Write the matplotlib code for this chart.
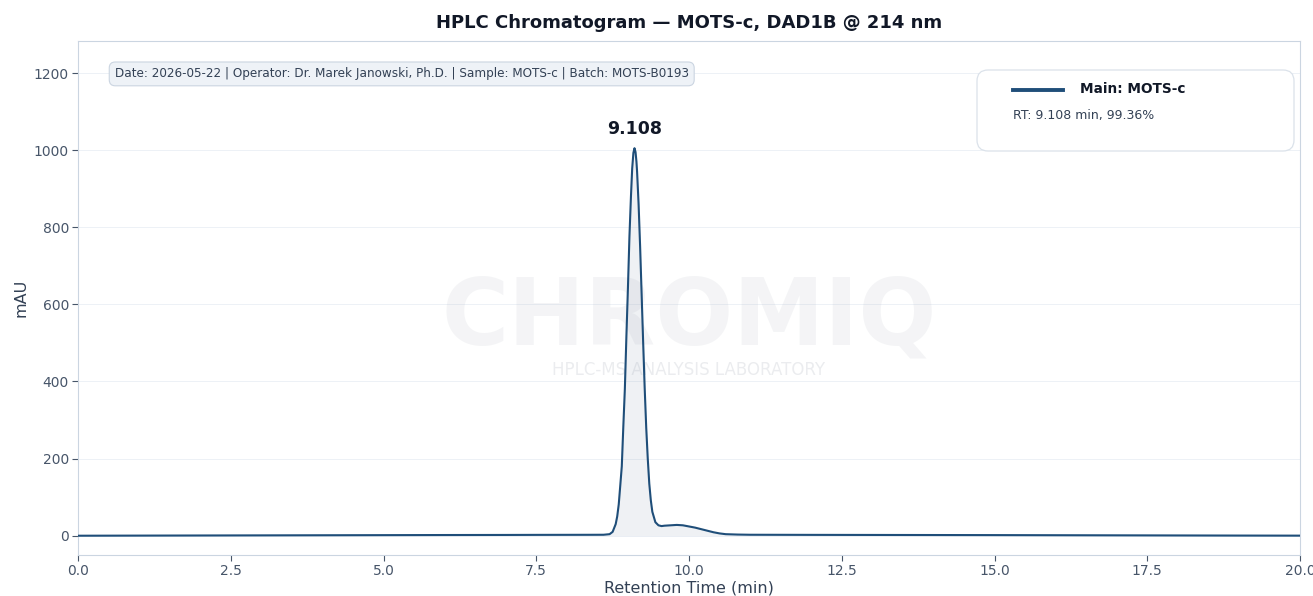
import numpy as np
import matplotlib.pyplot as plt
from matplotlib.patches import FancyBboxPatch
from matplotlib.lines import Line2D

# chromatogram trace (time in min, signal in mAU)
rt_min = [0.0, 1.0, 2.0, 3.0, 4.0, 5.0, 6.0, 7.0, 7.5, 8.0, 8.4, 8.6,
          8.70, 8.75, 8.80, 8.825, 8.85, 8.875, 8.90, 8.925, 8.95, 8.975,
          9.00, 9.025, 9.05, 9.07, 9.09, 9.108, 9.125, 9.14, 9.15, 9.175,
          9.20, 9.225, 9.25, 9.275, 9.30, 9.325, 9.35, 9.375, 9.40, 9.45,
          9.50, 9.55, 9.60, 9.70, 9.80, 9.90, 10.0, 10.1, 10.2, 10.3,
          10.4, 10.5, 10.6, 10.8, 11.0, 12.0, 13.0, 14.0, 15.0, 16.0,
          17.0, 18.0, 19.0, 20.0]
signal_mau = [0.0, 0.3, 0.6, 0.9, 1.2, 1.5, 1.8, 2.0, 2.2, 2.3, 2.4, 2.5,
              4.0, 10.0, 30.0, 50.0, 81.0, 130.0, 180.0, 283.0, 380.0, 515.0,
              640.0, 775.0, 880.0, 952.0, 993.0, 1005.0, 995.0, 970.0, 945.0, 860.0,
              750.0, 625.0, 500.0, 382.0, 280.0, 200.0, 135.0, 92.0, 62.0, 35.0,
              27.0, 25.0, 26.0, 27.0, 28.0, 27.0, 24.0, 21.0, 17.0, 13.0,
              9.0, 6.0, 4.0, 3.0, 2.5, 2.2, 2.0, 1.8, 1.6, 1.3,
              1.0, 0.7, 0.4, 0.2]

peak_rt = 9.108
peak_height = 1005.0
peak_name = "Main: MOTS-c"
peak_area_pct = 99.36

title = "HPLC Chromatogram \u2014 MOTS-c, DAD1B @ 214 nm"
info = "Date: 2026-05-22 | Operator: Dr. Marek Janowski, Ph.D. | Sample: MOTS-c | Batch: MOTS-B0193"

line_color = "#1f4e79"
dark = "#111827"
muted = "#475569"
border = "#cbd5e1"

fig = plt.figure(figsize=(13.13, 5.96), dpi=100)
ax = fig.add_axes([78 / 1313, 41 / 596, 1222 / 1313, 514 / 596])

ax.plot(rt_min, signal_mau, color=line_color, lw=1.5, zorder=3)
ax.fill_between(rt_min, 0, signal_mau, color="#94a3b8", alpha=0.15, lw=0, zorder=2)

ax.set_xlim(0, 20)
ax.set_ylim(-50, 1283)
ax.set_xticks(np.arange(0, 20.1, 2.5))
ax.set_yticks(np.arange(0, 1201, 200))
ax.grid(axis="y", color="#e2e8f0", lw=0.6, alpha=0.7)
ax.set_axisbelow(True)
for s in ax.spines.values():
    s.set_color(border)
ax.tick_params(colors=muted, labelsize=10, length=4, pad=2.5)
ax.set_xlabel("Retention Time (min)", fontsize=11.5, color="#334155", labelpad=2)
ax.set_ylabel("mAU", fontsize=11.5, color="#334155")
ax.set_title(title, fontsize=13, fontweight="bold", color=dark, pad=9)

# watermark
ax.text(0.5, 0.46, "CHROMIQ", transform=ax.transAxes, ha="center", va="center",
        fontsize=66, fontweight="bold", color="#9ca3af", alpha=0.11, zorder=1)
ax.text(0.5, 0.36, "HPLC-MS ANALYSIS LABORATORY", transform=ax.transAxes,
        ha="center", va="center", fontsize=12, color="#9ca3af", alpha=0.2, zorder=1)

# peak label
ax.annotate(f"{peak_rt:.3f}", (peak_rt, peak_height), xytext=(0, 7),
            textcoords="offset points", ha="center", va="bottom",
            fontsize=12.5, fontweight="bold", color=dark)

# info box
ax.text(0.03, 0.936, info, transform=ax.transAxes, ha="left", va="center",
        fontsize=8.65, color="#334155",
        bbox=dict(boxstyle="round,pad=0.45,rounding_size=0.5", fc="#eef2f7", ec=border, lw=0.8))

# legend box drawn by hand
x0, y0 = (977 - 78) / 1222, (555 - 151) / 514
w, h = (1294 - 977) / 1222, (151 - 70) / 514
box = FancyBboxPatch((x0, y0), w, h, transform=ax.transAxes,
                     boxstyle="round,pad=0,rounding_size=0.009",
                     fc="white", ec="#dbe2ea", lw=0.9, zorder=5,
                     mutation_aspect=1222 / 514)
ax.add_patch(box)
ax.add_line(Line2D([(1013 - 78) / 1222, (1063 - 78) / 1222],
                   [(555 - 90) / 514] * 2, transform=ax.transAxes,
                   color=line_color, lw=2.8, zorder=6))
ax.text((1080 - 78) / 1222, (555 - 89) / 514, peak_name, transform=ax.transAxes,
        ha="left", va="center", fontsize=9.8, fontweight="bold", color=dark, zorder=6)
ax.text((1013 - 78) / 1222, (555 - 115) / 514, f"RT: {peak_rt:.3f} min, {peak_area_pct:.2f}%",
        transform=ax.transAxes, ha="left", va="center", fontsize=9, color="#334155", zorder=6)

fig.savefig("out.png", dpi=100, facecolor="white")
